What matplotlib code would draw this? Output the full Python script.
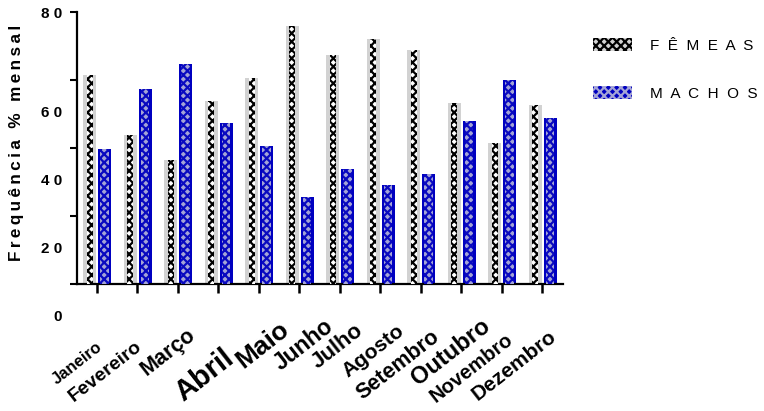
import matplotlib
matplotlib.use("Agg")
import matplotlib.pyplot as plt
import numpy as np
from matplotlib.patches import Patch
from matplotlib.transforms import ScaledTranslation

# Monthly frequency (%) by sex
meses = ["Janeiro", "Fevereiro", "Março", "Abril", "Maio", "Junho",
         "Julho", "Agosto", "Setembro", "Outubro", "Novembro", "Dezembro"]
femeas = [61.5, 43.8, 36.5, 53.9, 60.7, 75.9, 67.3, 72.1, 68.8, 53.1, 41.4, 52.5]
machos = [39.6, 57.3, 64.8, 47.3, 40.6, 25.5, 33.7, 29.0, 32.4, 48.0, 59.9, 48.7]
y_ticks = [0, 20, 40, 60, 80]
serie_nomes = ["FÊMEAS", "MACHOS"]

# per-label styling of the month names: font size (pt), shift right/down (px)
mes_tamanho = [12.0, 14.0, 15.5, 21.0, 19.0, 16.5, 16.0, 15.2, 15.5, 17.0, 14.5, 15.0]
mes_dx = [-19.7, -31.7, -10.2, -13.7, 3.8, 3.8, -2.2, -6.7, -23.2, -10.7, -30.7, -28.2]
mes_dy = [79.5, 87.5, 68.5, 91.0, 61.0, 60.5, 62.5, 67.5, 81.5, 68.5, 83.5, 81.0]

DPI = 100
W, H = 764, 411
fig = plt.figure(figsize=(W / DPI, H / DPI), dpi=DPI)
ax = fig.add_axes([77 / W, 1 - 284 / H, (563 - 77) / W, (284 - 12) / H])

FONT = ["Liberation Sans", "DejaVu Sans"]
TS = "\u2009"

x = np.arange(len(meses))
off_f, off_m = -0.175, 0.195
w_out = 0.31

plt.rcParams["hatch.linewidth"] = 1.6

F_FRAME, F_CORE, F_HATCH = "#d2d2d2", "white", "#000000"
M_FRAME, M_CORE, M_HATCH = "#0000c0", "#a4a4d6", "#0a0ac0"

# females: light grey frame with dark checker core
ax.bar(x + off_f, femeas, w_out, color=F_FRAME, linewidth=0, zorder=2)
ax.bar(x + off_f, femeas, 0.14, facecolor=F_CORE, edgecolor=F_HATCH,
       hatch="xxxx", linewidth=0, zorder=3)
# males: blue frame with lighter checker core
ax.bar(x + off_m, machos, w_out, color=M_FRAME, linewidth=0, zorder=2)
ax.bar(x + off_m, machos, 0.21, facecolor=M_CORE, edgecolor=M_HATCH,
       hatch="xxxx", linewidth=0, zorder=3)

ax.set_xlim(-0.49, 11.51)
ax.set_ylim(0, 80)

for s in ["top", "right"]:
    ax.spines[s].set_visible(False)
for s in ["left", "bottom"]:
    ax.spines[s].set_linewidth(1.6)

# y axis
ax.set_yticks(y_ticks)
ax.set_yticklabels([" ".join(str(v)) for v in y_ticks])
ax.tick_params(axis="y", length=5, width=1.5, pad=5.8)
for lab, v in zip(ax.get_yticklabels(), y_ticks):
    lab.set_fontfamily(FONT)
    lab.set_fontweight("bold")
    lab.set_fontsize(11)
    if v != y_ticks[-1]:
        lab.set_transform(lab.get_transform() +
                          ScaledTranslation(0, -31 / DPI, fig.dpi_scale_trans))

ax.set_ylabel((TS + " " + TS).join(TS.join(w) for w in "Frequência % mensal".split()),
              fontfamily=FONT, fontweight="bold", fontsize=12.3)
ax.yaxis.set_label_coords((24 - 77) / 486, (284 - 142.5) / 272)

# x axis
ax.set_xticks(x)
ax.set_xticklabels(meses)
ax.tick_params(axis="x", length=6.5, width=1.8, pad=0)
for lab, fs, dx, dy in zip(ax.get_xticklabels(), mes_tamanho, mes_dx, mes_dy):
    lab.set_fontfamily(FONT)
    lab.set_fontweight("bold")
    lab.set_fontsize(fs)
    lab.set_rotation(38)
    lab.set_rotation_mode("anchor")
    lab.set_ha("center")
    lab.set_va("center")
    lab.set_transform(lab.get_transform() +
                      ScaledTranslation(dx / DPI, -(dy - 9) / DPI, fig.dpi_scale_trans))

# legend
h_f = (Patch(facecolor=F_FRAME, edgecolor="none"),
       Patch(facecolor="none", edgecolor=F_HATCH, hatch="xxxx", linewidth=0))
h_m = (Patch(facecolor=M_FRAME, edgecolor="none"),
       Patch(facecolor="none", edgecolor="#a4a4d6", hatch="xxxx", linewidth=0))
leg = fig.legend([h_f, h_m], ["  ".join(n) for n in serie_nomes],
                 loc="upper left", bbox_to_anchor=(593 / W, 1 - 38 / H),
                 frameon=False, borderpad=0, borderaxespad=0,
                 handlelength=2.55, handleheight=0.95, handletextpad=1.15,
                 labelspacing=2.15, prop={"family": FONT, "size": 11})

fig.savefig("out.png", dpi=DPI)
